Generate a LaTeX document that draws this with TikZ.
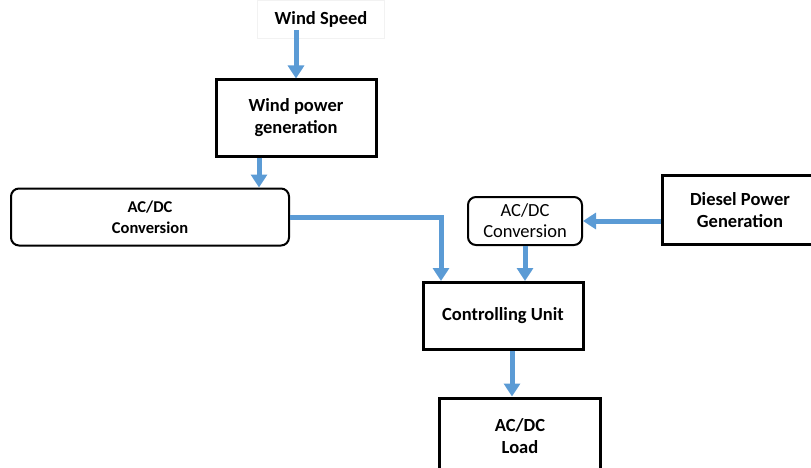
\documentclass[tikz,border=0pt]{standalone}
\usepackage{fontspec}
\setmainfont{Carlito}
\usetikzlibrary{arrows.meta,positioning}
\definecolor{flowblue}{HTML}{5B9BD5}
\definecolor{faintgray}{HTML}{F2F2F2}

\begin{document}
\begin{tikzpicture}[x=1pt,y=-1pt,
  bigbox/.style={draw=black,line width=3pt,align=center,inner sep=0pt,
    font=\fontsize{18.5}{22}\selectfont\bfseries},
  convbox/.style={draw=black,line width=2pt,rounded corners=8pt,align=center,inner sep=0pt},
  flow/.style={draw=flowblue,line width=5pt,-{Triangle[width=16pt,length=13pt]}}]
  \useasboundingbox (0,0) rectangle (811,468);

  % Wind side
  \node[draw=faintgray,line width=0.6pt,minimum width=127pt,minimum height=38pt,
    font=\fontsize{18.5}{22}\selectfont\bfseries] (speed) at (321,19) {Wind Speed};
  \node[bigbox,minimum width=160pt,minimum height=76pt] (wpg) at (296,118) {Wind power\\generation};
  \node[convbox,minimum width=278pt,minimum height=57pt,
    font=\fontsize{16.5}{21}\selectfont\bfseries] (acL) at (150,217) {AC/DC\\Conversion};

  % Diesel side (box runs off the right edge)
  \node[bigbox,minimum width=200pt,minimum height=69pt] (dg) at (762,210)
    {\hspace*{-44pt}Diesel Power\\\hspace*{-44pt}Generation};
  \node[convbox,minimum width=114pt,minimum height=48pt,
    font=\fontsize{18.5}{21}\selectfont] (acR) at (525,221) {AC/DC\\Conversion};

  % Control and load
  \node[bigbox,minimum width=160pt,minimum height=67pt] (cu) at (503,316) {Controlling Unit};
  \node[bigbox,minimum width=161pt,minimum height=90pt,text depth=14pt] (load) at (520,443) {AC/DC\\Load};

  % Connectors
  \draw[flow] ([yshift=8pt]speed.south -| wpg.north) -- (wpg.north);
  \draw[flow] (259,0 |- wpg.south) -- (259,0 |- acL.north);
  \draw[flow] (acL.east) -| (441,0 |- cu.north);
  \draw[flow] (dg.west |- acR.east) -- (acR.east);
  \draw[flow] (acR.south) -- (acR.south |- cu.north);
  \draw[flow] (512,0 |- cu.south) -- (512,0 |- load.north);
\end{tikzpicture}
\end{document}
